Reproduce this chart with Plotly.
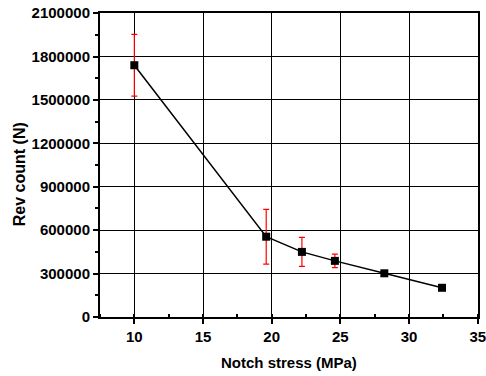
import plotly.graph_objects as go

stress = [10.0, 19.6, 22.2, 24.6, 28.2, 32.4]
rev_count = [1740000, 555000, 450000, 388000, 302000, 202000]
rev_err = [213000, 189000, 100000, 47000, 10000, 10000]

x_ticks = [10, 15, 20, 25, 30, 35]
y_ticks = [0, 300000, 600000, 900000, 1200000, 1500000, 1800000, 2100000]

FONT = "Liberation Sans, Arial, sans-serif"

fig = go.Figure()
fig.add_trace(go.Scatter(
    x=stress, y=rev_count,
    mode="lines+markers",
    line=dict(color="black", width=1.5),
    marker=dict(symbol="square", size=8, color="black"),
    error_y=dict(type="data", array=rev_err, visible=True, color="red", thickness=1.2, width=3),
    showlegend=False,
))

fig.update_layout(
    width=486, height=376,
    margin=dict(l=100, r=8, t=13, b=59),
    paper_bgcolor="white", plot_bgcolor="white",
    font=dict(family=FONT, size=15, color="black"),
    xaxis=dict(
        range=[7.5, 35.02], tickvals=x_ticks, ticktext=["<b>%d</b>" % v for v in x_ticks],
        showgrid=True, gridcolor="black", gridwidth=1,
        showline=True, linecolor="black", linewidth=2, mirror=True,
        ticks="outside", ticklen=5, tickwidth=1.5, tickcolor="black",
        minor=dict(dtick=2.5, tick0=0, ticks="inside", ticklen=3, tickcolor="black", showgrid=False),
        tickfont=dict(family=FONT, size=15, color="black"),
        zeroline=False, automargin=False, ticklabeloverflow="allow",
    ),
    yaxis=dict(
        range=[0, 2101000], tickvals=y_ticks, ticktext=["<b>%d</b>" % v for v in y_ticks],
        showgrid=True, gridcolor="black", gridwidth=1,
        showline=True, linecolor="black", linewidth=2, mirror=True,
        ticks="outside", ticklen=5, tickwidth=1.5, tickcolor="black",
        minor=dict(dtick=150000, tick0=0, ticks="outside", ticklen=3, tickcolor="black", showgrid=False),
        tickfont=dict(family=FONT, size=15, color="black"),
        zeroline=False, automargin=False, ticklabeloverflow="allow",
    ),
    annotations=[
        dict(
            text="<b>Rev count (N)</b>", textangle=-90,
            xref="paper", yref="paper", x=-0.214, y=0.47,
            xanchor="center", yanchor="middle", showarrow=False,
            font=dict(family=FONT, size=16, color="black"),
        ),
        dict(
            text="<b>Notch stress (MPa)</b>",
            xref="paper", yref="paper", x=0.5, y=-0.151,
            xanchor="center", yanchor="middle", showarrow=False,
            font=dict(family=FONT, size=15, color="black"),
        ),
    ],
)

fig.write_html("out.html", config={"displayModeBar": False},
               post_script="document.body.style.margin='0';document.body.style.overflow='hidden';")
